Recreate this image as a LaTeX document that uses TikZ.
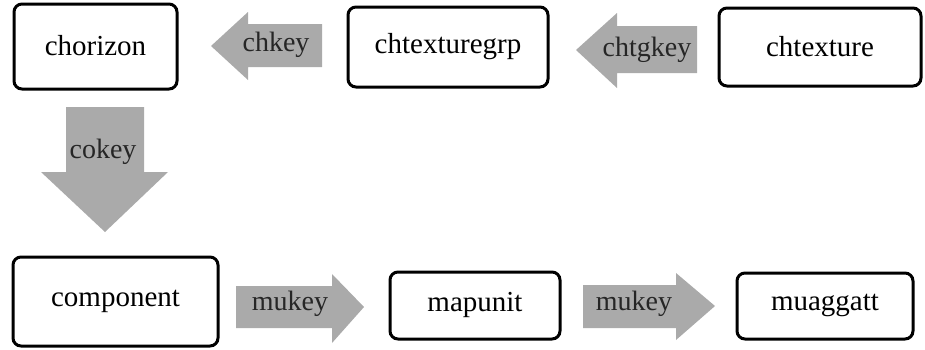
\documentclass[tikz,border=0pt]{standalone}
\usepackage{fontspec}
\newfontfamily\tmsfont{LiberationSerif-Regular.ttf}
\definecolor{arrowgray}{RGB}{170,170,170}
\tikzset{
  box/.style={draw=black, line width=3pt, rounded corners=8pt, fill=white},
  boxtext/.style={font=\tmsfont\fontsize{29}{32}\selectfont, inner sep=0pt, text=black},
  arrowtext/.style={font=\tmsfont\fontsize{28}{31}\selectfont, inner sep=0pt, text=black!85},
  blockarrow/.style={fill=arrowgray, draw=none}
}
\begin{document}
\begin{tikzpicture}[x=1pt,y=-1pt]
\useasboundingbox (0,0) rectangle (925,349);
% boxes
\draw[box] (14,4) rectangle (177,89);
\node[boxtext] (chorizon) at (95.5,46) {chorizon};
\draw[box] (348,7) rectangle (548,87);
\node[boxtext] (chtexturegrp) at (448,47) {chtexturegrp};
\draw[box] (719,8) rectangle (921,86);
\node[boxtext] (chtexture) at (820,47) {chtexture};
\draw[box] (13,257) rectangle (218,346);
\node[boxtext] (component) at (115.5,301) {component};
\draw[box] (390,272) rectangle (560,339);
\node[boxtext] (mapunit) at (475,305) {mapunit};
\draw[box] (737,273) rectangle (913,339);
\node[boxtext] (muaggatt) at (825,305) {muaggatt};
% arrows
\fill[blockarrow] (211,46) -- (248,12) -- (248,24) -- (322,24) -- (322,67) -- (248,67) -- (248,80) -- cycle;
\node[arrowtext] (chkey) at (276,45) {chkey};
\fill[blockarrow] (576,50) -- (617,13) -- (617,26) -- (697,26) -- (697,73) -- (617,73) -- (617,88) -- cycle;
\node[arrowtext] (chtgkey) at (647,50) {chtgkey};
\fill[blockarrow] (66,107) -- (144,107) -- (144,172) -- (168,172) -- (105,232) -- (41,172) -- (66,172) -- cycle;
\node[arrowtext] (cokey) at (103,152) {cokey};
\fill[blockarrow] (236,286) -- (332,286) -- (332,274) -- (364,307) -- (332,343) -- (332,328) -- (236,328) -- cycle;
\node[arrowtext] (mukeya) at (290,304) {mukey};
\fill[blockarrow] (583,285) -- (676,285) -- (676,273) -- (715,306) -- (676,340) -- (676,328) -- (583,328) -- cycle;
\node[arrowtext] (mukeyb) at (634,304) {mukey};
\end{tikzpicture}
\end{document}
